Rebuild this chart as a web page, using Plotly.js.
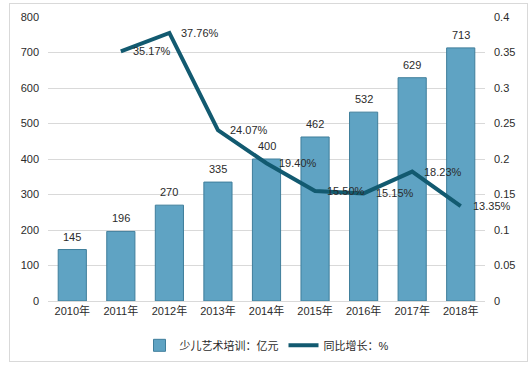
<!DOCTYPE html>
<html><head><meta charset="utf-8">
<script src="https://cdn.plot.ly/plotly-3.0.1.min.js"></script>
<style>
body{margin:0;background:#fff;}
#wrap{position:relative;width:532px;height:368px;}
#frame{position:absolute;left:9px;top:3px;width:517px;height:357px;border:1px solid #d9d9d9;pointer-events:none;}
#chart{position:absolute;left:0;top:0;width:532px;height:368px;}
</style></head>
<body><div id="wrap"><div id="chart"></div><div id="frame"></div></div>
<script>
const years = ['2010年','2011年','2012年','2013年','2014年','2015年','2016年','2017年','2018年'];
const revenue = [145,196,270,335,400,462,532,629,713];
const growthYears = ['2011年','2012年','2013年','2014年','2015年','2016年','2017年','2018年'];
const growth = [0.3517,0.3776,0.2407,0.1940,0.1550,0.1515,0.1823,0.1335];
const growthLabels = ['35.17%','37.76%','24.07%','19.40%','15.50%','15.15%','18.23%','13.35%'];
const barName = '少儿艺术培训：亿元';
const lineName = '同比增长：%';

const fam = '"Liberation Sans","Noto Sans CJK SC",sans-serif';
const txt = {family:fam, size:11, color:'#2b2b2b'};

const traces = [
  {type:'bar', x:years, y:revenue, name:barName, width:0.58,
   marker:{color:'#5fa3c3', line:{color:'#3f7e9b', width:1}}},
  {type:'scatter', mode:'lines', x:growthYears, y:growth, yaxis:'y2', name:lineName,
   line:{color:'#125a70', width:4}}
];

const barLabels = years.map((x,i)=>({x:x, y:revenue[i], xref:'x', yref:'y',
  text:String(revenue[i]), showarrow:false, xanchor:'center', yanchor:'bottom', yshift:5, font:txt}));
const lineLabels = growthYears.map((x,i)=>({x:x, y:growth[i], xref:'x', yref:'y2',
  text:growthLabels[i], showarrow:false, xanchor:'left', yanchor:'middle', xshift:10, font:txt}));

const layout = {
  width:532, height:368,
  margin:{l:48, r:47, t:17, b:67, autoexpand:false},
  paper_bgcolor:'rgba(0,0,0,0)', plot_bgcolor:'#fff',
  font:txt,
  showlegend:true,
  legend:{orientation:'h', x:0.5, xanchor:'center', y:-0.105, yanchor:'top', font:txt, itemwidth:30},
  xaxis:{type:'category', categoryorder:'array', categoryarray:years, range:[-0.5, years.length-0.5], autorange:false,
         showline:true, linecolor:'#d9d9d9', ticks:'', tickfont:txt, automargin:false},
  yaxis:{range:[0,800], dtick:100, gridcolor:'#d9d9d9', zeroline:false, ticks:'', ticklabelstandoff:8, tickfont:txt, automargin:false},
  yaxis2:{range:[0,0.4], dtick:0.05, overlaying:'y', side:'right', showgrid:false, zeroline:false, ticks:'', ticklabelstandoff:8, tickfont:txt, automargin:false},
  annotations:barLabels.concat(lineLabels)
};
Plotly.newPlot('chart', traces, layout, {displayModeBar:false, staticPlot:true});
</script></body></html>
